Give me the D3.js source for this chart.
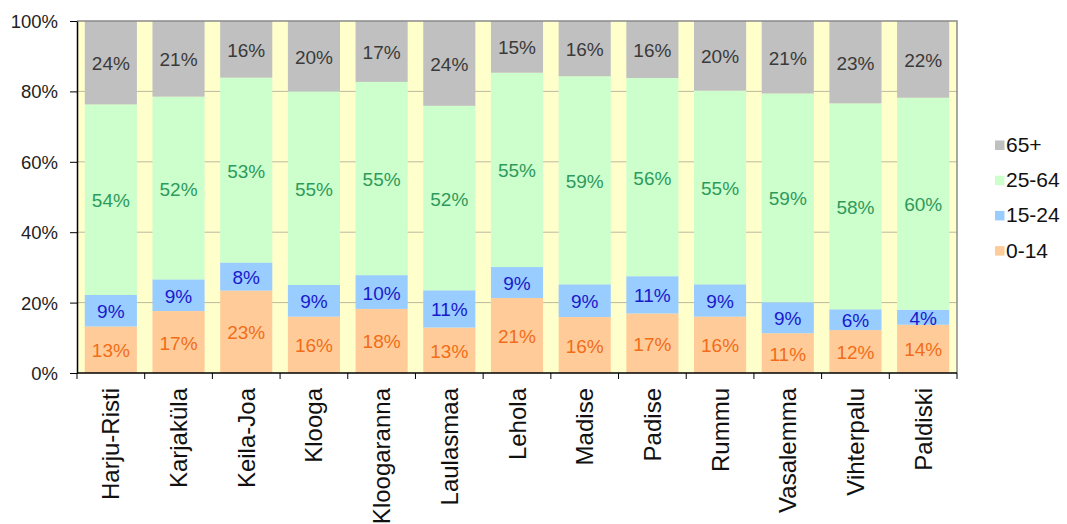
<!DOCTYPE html>
<html><head><meta charset="utf-8">
<script src="https://cdn.jsdelivr.net/npm/d3@7"></script>
<style>body{margin:0;background:#fff}svg{display:block}text{font-family:"Liberation Sans",Arial,sans-serif}</style>
</head><body><svg id="c" width="1067" height="524"></svg>
<script>
const categories = ["Harju-Risti","Karjaküla","Keila-Joa","Klooga","Kloogaranna","Laulasmaa","Lehola","Madise","Padise","Rummu","Vasalemma","Vihterpalu","Paldiski"];
const age0_14  = [13.2,17.6,23.4,16.0,18.2,12.9,21.3,15.9,16.9,16.0,11.3,12.2,13.7];
const age15_24 = [9.0,9.0,8.0,9.0,9.6,10.6,8.8,9.3,10.6,9.2,8.8,5.9,4.3];
const age25_64 = [54.1,51.9,52.5,55.0,54.9,52.4,55.2,59.1,56.3,55.0,59.3,58.5,60.2];
const age65    = [23.7,21.5,16.1,20.0,17.3,24.1,14.7,15.7,16.2,19.8,20.6,23.4,21.8];
const labels0_14  = ["13%","17%","23%","16%","18%","13%","21%","16%","17%","16%","11%","12%","14%"];
const labels15_24 = ["9%","9%","8%","9%","10%","11%","9%","9%","11%","9%","9%","6%","4%"];
const labels25_64 = ["54%","52%","53%","55%","55%","52%","55%","59%","56%","55%","59%","58%","60%"];
const labels65    = ["24%","21%","16%","20%","17%","24%","15%","16%","16%","20%","21%","23%","22%"];
const seriesNames = ["0-14","15-24","25-64","65+"];
const yTicks = [0,20,40,60,80,100];

const fills = ["#FFCC99","#99CCFF","#CCFFCC","#C0C0C0"];
const labelColors = ["#F26C1A","#1A1ACC","#2E9A5C","#3a3a3a"];
const values = [age0_14, age15_24, age25_64, age65];
const labs = [labels0_14, labels15_24, labels25_64, labels65];

const svg = d3.select("#c");
const L = 77, R = 957, T = 21, B = 373;
const x = d3.scaleBand().domain(categories).range([L, R]).paddingInner(0.23).paddingOuter(0.115);
const xb = d3.scaleBand().domain(categories).range([L, R]);
const y = d3.scaleLinear().domain([0, 100]).range([B, T]);

svg.append("rect").attr("x", L).attr("y", T).attr("width", R - L).attr("height", B - T).attr("fill", "#FFFFCC");
svg.append("g").selectAll("line").data(yTicks.slice(1, -1)).join("line")
  .attr("x1", L).attr("x2", R).attr("y1", d => y(d)).attr("y2", d => y(d))
  .attr("stroke", "#BDB9A0").attr("stroke-width", 1);

const rows = categories.map((c, i) => {
  const o = {cat: c};
  seriesNames.forEach((s, k) => o[s] = values[k][i]);
  return o;
});
const stack = d3.stack().keys(seriesNames)(rows);

stack.forEach((layer, k) => {
  const g = svg.append("g");
  g.selectAll("rect").data(layer).join("rect")
    .attr("x", d => x(d.data.cat)).attr("width", x.bandwidth())
    .attr("y", d => y(d[1])).attr("height", d => y(d[0]) - y(d[1]))
    .attr("fill", fills[k]);
});
stack.forEach((layer, k) => {
  svg.append("g").selectAll("text").data(layer).join("text")
    .attr("x", d => x(d.data.cat) + x.bandwidth() / 2)
    .attr("y", d => (y(d[0]) + y(d[1])) / 2 + 7.5)
    .attr("text-anchor", "middle").attr("font-size", 19)
    .attr("fill", labelColors[k])
    .text((d, i) => labs[k][i]);
});

// frame top/right
svg.append("path").attr("d", `M${L},${T}H${R}V${B}`).attr("fill", "none").attr("stroke", "#8a8a8a").attr("stroke-width", 1.5);

// y axis
const ya = svg.append("g").attr("transform", `translate(${L},0)`)
  .call(d3.axisLeft(y).tickValues(yTicks).tickFormat(d => d + "%").tickSize(7).tickSizeOuter(0));
ya.select(".domain").attr("stroke", "#000").attr("stroke-width", 1.5);
ya.selectAll(".tick line").attr("stroke", "#000");
ya.selectAll("text").attr("font-size", 18.5).attr("fill", "#222").attr("x", -19).attr("dy", "0.35em");

// x axis
const xa = svg.append("g").attr("transform", `translate(0,${B})`);
xa.append("line").attr("x1", L).attr("x2", R).attr("y1", 0).attr("y2", 0).attr("stroke", "#000").attr("stroke-width", 1.5);
const bounds = categories.map(c => xb(c)).concat([R]);
xa.selectAll("line.t").data(bounds).join("line").attr("class", "t")
  .attr("x1", d => d).attr("x2", d => d).attr("y1", 0).attr("y2", 6).attr("stroke", "#000");
xa.selectAll("text").data(categories).join("text")
  .attr("transform", d => `translate(${xb(d) + xb.bandwidth() / 2 + 8.5},15) rotate(-90)`)
  .attr("text-anchor", "end").attr("font-size", 24).attr("fill", "#111")
  .text(d => d);

// legend
const leg = svg.append("g");
const legOrder = [3, 2, 1, 0];
legOrder.forEach((k, j) => {
  const yy = 145 + j * 35.2;
  leg.append("rect").attr("x", 995).attr("y", yy - 4.5).attr("width", 9.5).attr("height", 9.5).attr("fill", fills[k]);
  leg.append("text").attr("x", 1006).attr("y", yy + 7).attr("font-size", 21).attr("fill", "#111").text(seriesNames[k]);
});
</script></body></html>
